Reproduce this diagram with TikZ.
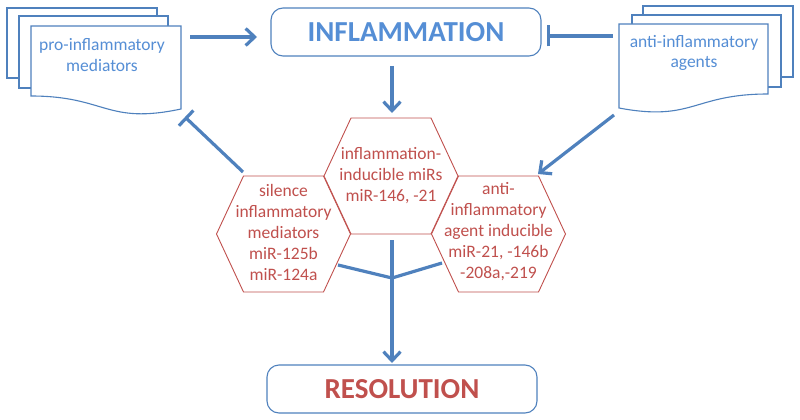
\documentclass[tikz,border=0pt]{standalone}
\usepackage{fontspec}
\setmainfont{Carlito}
\usetikzlibrary{arrows.meta}
\definecolor{lineblue}{RGB}{79,129,189}
\definecolor{textblue}{RGB}{85,142,213}
\definecolor{hexred}{RGB}{192,80,77}
\begin{document}
\begin{tikzpicture}[x=1pt,y=-1pt,
  page/.style={draw=lineblue, line width=1.1pt, fill=white},
  hexa/.style={draw=hexred, line width=0.9pt, fill=white},
  conn/.style={draw=lineblue, line width=3.2pt},
  arr/.style={conn, -{Straight Barb[length=9pt,width=17pt]}},
  tbar/.style={conn, -{Bar[width=21pt]}},
  bigbox/.style={draw=lineblue, line width=1.1pt, rounded corners=12pt, minimum width=270pt, minimum height=48pt, inner sep=0pt, font=\fontsize{29}{34}\selectfont\bfseries},
  doctext/.style={text=textblue, align=center, inner sep=0pt, font=\fontsize{17.5}{20.5}\selectfont},
  hextext/.style={text=hexred, align=center, inner sep=0pt, font=\fontsize{17.5}{21}\selectfont},
  hexagon/.pic={\path[hexa] (-67,0) -- (-40,-58) -- (40,-58) -- (67,0) -- (40,58) -- (-40,58) -- cycle;}
]
\useasboundingbox (0,0) rectangle (800,420);

% left multi-document
\path[page] (7,8) rectangle (157,78);
\path[page] (19,16) rectangle (168,88);
\path[page] (31,26) -- (181,26) -- (181,109) .. controls (106,125) and (106,96) .. (31,96) -- cycle;
\node[doctext] (pro) at (102,55) {pro-inflammatory\\mediators};

% right multi-document
\path[page] (643,6) rectangle (793,77);
\path[page] (632,15) rectangle (781,87);
\path[page] (619,24) -- (768,24) -- (768,94) .. controls (693,94) and (693,122) .. (619,108) -- cycle;
\node[doctext] (anti) at (694,53) {anti-inflammatory\\agents};

% boxes
\node[bigbox, text=textblue] (infl) at (406,32) {INFLAMMATION};
\node[bigbox, text=hexred] (resol) at (402,389) {RESOLUTION};

% hexagons
\pic at (283.5,234) {hexagon};
\pic at (498.5,234) {hexagon};
\pic at (391,176) {hexagon};
\node[hextext] (hc) at (391,176) {inflammation-\\inducible miRs\\miR-146, -21};
\node[hextext] (hl) at (283.5,232) {silence\\inflammatory\\mediators\\miR-125b\\miR-124a};
\node[hextext] (hr) at (498.5,232) {anti-\\inflammatory\\agent inducible\\miR-21, -146b\\-208a,-219};

% connector end points
\coordinate (proOut) at (190,37);
\coordinate (inflIn) at (257,37);
\coordinate (antiOut) at (613,36);
\coordinate (inflBar) at (547,36);
\coordinate (inflOut) at (392,66);
\coordinate (hcIn) at (392,113);
\coordinate (antiOut2) at (614,115);
\coordinate (hrIn) at (538,174);
\coordinate (hlOut) at (243,172);
\coordinate (proBar) at (185,117);
\coordinate (hlOut2) at (338,265);
\coordinate (hrOut2) at (442,263);
\coordinate (hcOut) at (392,240);
\coordinate (jn) at (392,278);
\coordinate (resIn) at (392,363);

\draw[arr] (proOut) -- (inflIn);
\draw[tbar] (antiOut) -- (inflBar);
\draw[arr] (inflOut) -- (hcIn);
\draw[arr] (antiOut2) -- (hrIn);
\draw[tbar] (hlOut) -- (proBar);
\draw[conn, line join=round] (hlOut2) -- (jn) -- (hrOut2);
\draw[arr] (hcOut) -- (resIn);
\end{tikzpicture}
\end{document}
